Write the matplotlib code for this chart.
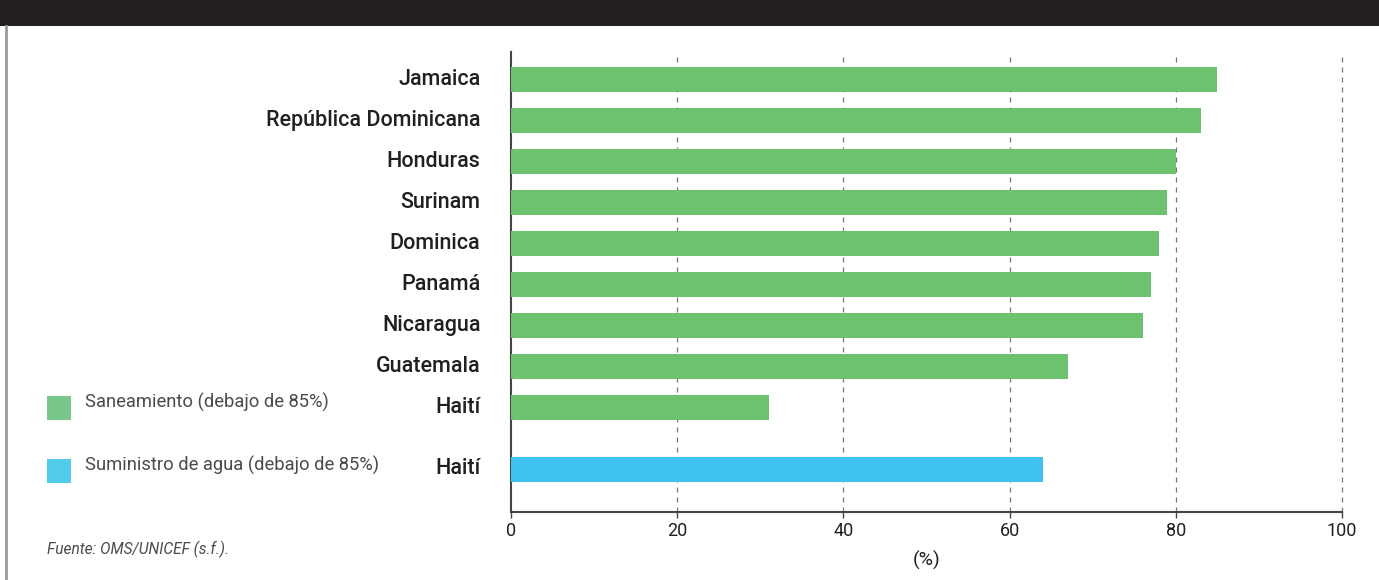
import matplotlib.pyplot as plt
import matplotlib.transforms as mtransforms
from matplotlib.patches import Rectangle

# data (%)
countries = ['Jamaica', 'República Dominicana', 'Honduras', 'Surinam', 'Dominica',
             'Panamá', 'Nicaragua', 'Guatemala', 'Haití']
saneamiento = [85, 83, 80, 79, 78, 77, 76, 67, 31]
agua_country = 'Haití'
agua = 64
xticks = [0, 20, 40, 60, 80, 100]

green = '#6ec26f'
blue = '#3ec3f0'
dark = '#231f20'

plt.rcParams['font.family'] = ['Roboto', 'DejaVu Sans']

fig = plt.figure(figsize=(13.79, 5.8), dpi=100)

# dark header band (title cut off in the source) and left frame line
fig.patches.append(Rectangle((0, 1 - 26 / 580), 1, 26 / 580, transform=fig.transFigure,
                             facecolor=dark, edgecolor='none', zorder=0))
fig.add_artist(plt.Line2D([6 / 1379, 6 / 1379], [0, 1 - 26 / 580], transform=fig.transFigure,
                          color='#9a9a9a', lw=2))

ax = fig.add_axes([511 / 1379, 1 - 512 / 580, (1342 - 511) / 1379, (512 - 52) / 580])

ypos = list(range(len(countries)))
ax.barh(ypos, saneamiento, height=0.61, color=green, zorder=3)
ax.barh([len(countries) + 0.5], [agua], height=0.61, color=blue, zorder=3)

ax.set_ylim(10.54, -0.68)
ax.set_xlim(0, 100)
ax.set_yticks(ypos + [len(countries) + 0.5])
ax.set_yticklabels(countries + [agua_country], fontsize=15.5, fontweight='medium', color=dark)
ax.tick_params(axis='y', length=0, pad=22)
# labels sit a few pixels above the bar centres in the original
shift = mtransforms.ScaledTranslation(0, 3 / 100, fig.dpi_scale_trans)
for lbl in ax.get_yticklabels():
    lbl.set_transform(lbl.get_transform() + shift)

ax.set_xticks(xticks)
ax.set_xticklabels([str(t) for t in xticks], fontsize=13, color=dark)
ax.tick_params(axis='x', length=4, width=1, color='#444444', pad=3)

for s in ['top', 'right']:
    ax.spines[s].set_visible(False)
for s in ['left', 'bottom']:
    ax.spines[s].set_color('#444444')
    ax.spines[s].set_linewidth(1.5)

for t in xticks[1:]:
    ax.axvline(t, color='#777777', lw=0.9, ls=(0, (4, 4)), zorder=1, clip_on=False)

ax.set_xlabel('(%)', fontsize=14, color=dark, labelpad=8)

# legend drawn by hand on the left
fig.patches.append(Rectangle((47 / 1379, 1 - 420 / 580), 24 / 1379, 24 / 580,
                             transform=fig.transFigure, facecolor='#78c689', edgecolor='none'))
fig.patches.append(Rectangle((47 / 1379, 1 - 483 / 580), 24 / 1379, 24 / 580,
                             transform=fig.transFigure, facecolor='#52cbea', edgecolor='none'))
fig.text(85 / 1379, 1 - 402 / 580, 'Saneamiento (debajo de 85%)', fontsize=13.2,
         color='#4a4a4a', va='center')
fig.text(85 / 1379, 1 - 465 / 580, 'Suministro de agua (debajo de 85%)', fontsize=13.2,
         color='#4a4a4a', va='center')
fig.text(47 / 1379, 1 - 549 / 580, 'Fuente: OMS/UNICEF (s.f.).', fontsize=11.2,
         style='italic', color='#4a4a4a', va='center')

fig.savefig('out.png', dpi=100)
